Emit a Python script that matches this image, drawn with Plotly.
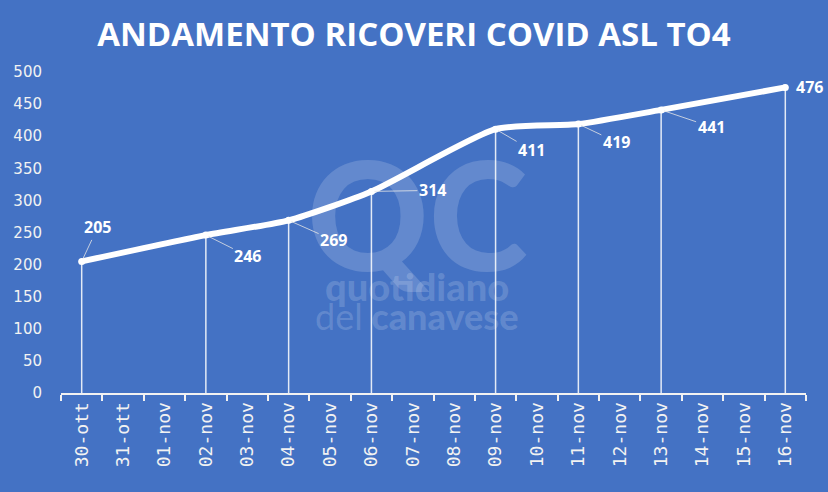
"""Andamento ricoveri COVID ASL TO4 - line chart with drop lines."""

import plotly.graph_objects as go

# all days on the category axis
giorni = [
    "30-ott", "31-ott", "01-nov", "02-nov", "03-nov", "04-nov", "05-nov",
    "06-nov", "07-nov", "08-nov", "09-nov", "10-nov", "11-nov", "12-nov",
    "13-nov", "14-nov", "15-nov", "16-nov",
]

# days with a reading and the number of patients in hospital
date_rilevazione = ["30-ott", "02-nov", "04-nov", "06-nov", "09-nov", "11-nov", "13-nov", "16-nov"]
ricoveri = [205, 246, 269, 314, 411, 419, 441, 476]

y_ticks = [0, 50, 100, 150, 200, 250, 300, 350, 400, 450, 500]

BG = "#4472C4"
WHITE = "#FFFFFF"
TEXT = "#F2F2F2"
MARK = "rgba(255,255,255,0.17)"

# label offsets (px) from each point, like the Excel label placement
label_offsets = [(16, -34), (42, 21), (45, 20), (61, -1), (36, 21), (38, 18), (50, 17), (24, 0)]

fig = go.Figure()

fig.add_trace(
    go.Scatter(
        x=date_rilevazione,
        y=ricoveri,
        mode="lines+markers",
        line=dict(color=WHITE, width=6, shape="spline", smoothing=0.6),
        marker=dict(color=WHITE, size=7),
        error_y=dict(
            type="data",
            symmetric=False,
            array=[0] * len(ricoveri),
            arrayminus=ricoveri,
            width=0,
            thickness=1.5,
            color="rgba(255,255,255,0.85)",
        ),
        hovertemplate="%{x}<br>%{y}<extra></extra>",
        showlegend=False,
    )
)

annotations = []
for d, v, (ax, ay) in zip(date_rilevazione, ricoveri, label_offsets, strict=True):
    annotations.append(
        dict(
            x=d,
            y=v,
            xref="x",
            yref="y",
            text=f"<b>{v}</b>",
            showarrow=True,
            arrowhead=0,
            arrowwidth=1,
            arrowcolor="rgba(230,230,230,0.8)" if ax != 24 else "rgba(0,0,0,0)",
            ax=ax,
            ay=ay,
            standoff=3,
            font=dict(family="Open Sans", size=16, color=WHITE),
        )
    )

# faint watermark
annotations += [
    dict(
        text="QC", x=0.478, y=0.56, xref="paper", yref="paper", showarrow=False,
        font=dict(family="Lato", size=150, weight=900, color=MARK),
    ),
    dict(
        text="quotidiano", x=0.478, y=0.255, xref="paper", yref="paper", showarrow=False,
        font=dict(family="Lato", size=38, weight=900, color=MARK),
    ),
    dict(
        text="<span style='font-weight:normal'>del</span> canavese", x=0.478, y=0.165,
        xref="paper", yref="paper", showarrow=False,
        font=dict(family="Lato", size=36, weight=900, color=MARK),
    ),
]

fig.update_layout(
    width=828,
    height=492,
    paper_bgcolor=BG,
    plot_bgcolor=BG,
    margin=dict(l=61, r=22, t=72, b=99),
    title=dict(
        text="<b>ANDAMENTO RICOVERI COVID ASL TO4</b>",
        x=0.5,
        xanchor="center",
        y=0.93,
        yanchor="middle",
        font=dict(family="Open Sans", size=33, color=WHITE),
    ),
    xaxis=dict(
        type="category",
        categoryorder="array",
        categoryarray=giorni,
        range=[-0.5, len(giorni) - 0.5],
        showgrid=False,
        zeroline=False,
        showline=True,
        linecolor=TEXT,
        linewidth=2,
        ticks="outside",
        tickson="boundaries",
        ticklen=6,
        tickwidth=2,
        tickcolor=TEXT,
        tickangle=-90,
        tickfont=dict(family="DejaVu Sans Mono", size=18, color=TEXT),
        fixedrange=True,
    ),
    yaxis=dict(
        range=[0, 500],
        tickvals=y_ticks,
        showgrid=False,
        zeroline=False,
        showline=False,
        ticks="",
        ticklabelstandoff=18,
        tickfont=dict(family="DejaVu Sans", size=15, color=TEXT),
        fixedrange=True,
    ),
    annotations=annotations,
)

# drop the browser's default page margin so the chart sits at the top-left corner
fig.write_html(
    "out.html",
    config={"displayModeBar": False},
    post_script="document.body.style.margin='0';",
)
